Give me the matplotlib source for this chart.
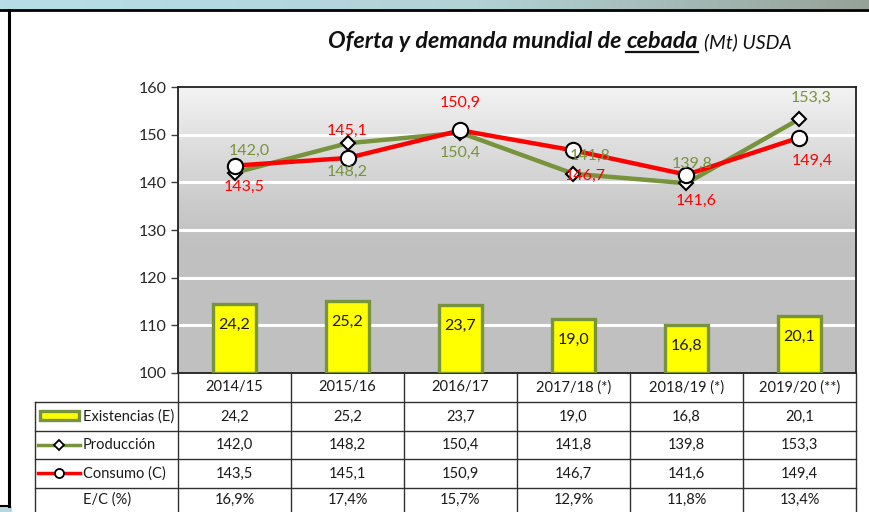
import matplotlib
matplotlib.use('Agg')
import matplotlib.pyplot as plt
import numpy as np
from matplotlib.patches import Rectangle
from matplotlib.lines import Line2D

plt.rcParams['font.family'] = ['Lato', 'DejaVu Sans']

# ---------------- data ----------------
categories = ['2014/15', '2015/16', '2016/17', '2017/18 (*)', '2018/19 (*)', '2019/20 (**)']
existencias = [24.2, 25.2, 23.7, 19.0, 16.8, 20.1]
produccion = [142.0, 148.2, 150.4, 141.8, 139.8, 153.3]
consumo = [143.5, 145.1, 150.9, 146.7, 141.6, 149.4]
ec_pct = [16.9, 17.4, 15.7, 12.9, 11.8, 13.4]
yticks = [100, 110, 120, 130, 140, 150, 160]
row_names = ['Existencias (E)', 'Producción', 'Consumo (C)', 'E/C (%)']

# label offsets (pixels) relative to points
prod_off = [(15, -22), (0, 29), (0, 20), (17, -18), (6, -19), (12, -21)]
cons_off = [(10, 21), (0, -27), (0, -27), (12, 25), (10, 26), (13, 23)]

GREEN = '#77933c'
RED = '#ff0000'
YELLOW = '#ffff00'


def fmt(v):
    return f'{v:.1f}'.replace('.', ',')


W, H = 870, 512
fig = plt.figure(figsize=(8.7, 5.12), dpi=100)
fig.patch.set_facecolor('white')

L, R, T, B = 178, 856, 87, 373
pos = [L / W, 1 - B / H, (R - L) / W, (B - T) / H]
ax = fig.add_axes(pos)
x = np.arange(len(categories))

# background gradient
n = 300
yy = np.linspace(100, 160, n)
g = np.where(yy > 126, 0.753 + 0.20 * np.clip((yy - 126) / 34, 0, 1) ** 1.2, 0.753)
img = np.dstack([g, g, g]).reshape(n, 1, 3)
ax.imshow(img, extent=[-0.5, 5.5, 100, 160], origin='lower', aspect='auto', zorder=0)
for yv in yticks[1:-1]:
    ax.axhline(yv, color='white', lw=2.2, zorder=1)
ax.set_xlim(-0.5, 5.5)
ax.set_ylim(100, 160)
ax.set_yticks(yticks)
ax.set_yticklabels([str(v) for v in yticks], fontsize=11.5, color='#262626')
ax.set_xticks([])
ax.tick_params(axis='y', length=5, width=1, color='#404040', pad=3)
for s in ax.spines.values():
    s.set_color('#202020')
    s.set_linewidth(1.3)
    s.set_zorder(6)

# bars on secondary (hidden) scale
axb = ax.twinx()
axb.set_ylim(0, 100)
axb.axis('off')
axb.bar(x, existencias, width=0.385, color=YELLOW, edgecolor=GREEN, linewidth=2.4, zorder=2)
for xi, v in zip(x, existencias):
    axb.annotate(fmt(v), (xi, v), xytext=(0, -21 * 0.72), textcoords='offset points',
                 ha='center', va='center', fontsize=11.5, color='#1a1a1a')

# lines
axl = ax.twinx()
axl.set_ylim(100, 160)
axl.set_xlim(-0.5, 5.5)
axl.axis('off')
axl.plot(x, produccion, color=GREEN, lw=3.2, zorder=3)
axl.plot(x, consumo, color=RED, lw=3.2, zorder=4)
axl.plot(x, produccion, ls='none', marker='D', ms=7.5, mfc='white', mec='black', mew=1.5, zorder=5)
axl.plot(x, consumo, ls='none', marker='o', ms=11, mfc='white', mec='black', mew=1.5, zorder=6)
for xi, v, (dx, dy) in zip(x, produccion, prod_off):
    axl.annotate(fmt(v), (xi, v), xytext=(dx * 0.72, -dy * 0.72), textcoords='offset points',
                 ha='center', va='center', fontsize=11.5, color=GREEN, zorder=7)
for xi, v, (dx, dy) in zip(x, consumo, cons_off):
    axl.annotate(fmt(v), (xi, v), xytext=(dx * 0.72, -dy * 0.72), textcoords='offset points',
                 ha='center', va='center', fontsize=11.5, color=RED, zorder=7)

# ---------------- overlay in pixel coordinates ----------------
ov = fig.add_axes([0, 0, 1, 1], zorder=10)
ov.set_xlim(0, W)
ov.set_ylim(H, 0)
ov.axis('off')
ov.patch.set_alpha(0)

# top band gradient
band = np.zeros((1, 200, 3))
cl = np.array([183, 222, 232]) / 255
cm = np.array([178, 210, 214]) / 255
cr = np.array([150, 162, 152]) / 255
for i in range(200):
    t = i / 199
    if t < 0.55:
        band[0, i] = cl + (cm - cl) * t / 0.55
    else:
        band[0, i] = cm + (cr - cm) * (t - 0.55) / 0.45
ov.imshow(band, extent=[0, W, 9, 0], aspect='auto', zorder=0)
ov.add_line(Line2D([0, W], [10, 10], color='black', lw=2))
ov.add_line(Line2D([9, 9], [10, 506], color='black', lw=2.2))
ov.add_line(Line2D([0, 10], [506, 506], color='black', lw=1.5))
ov.add_patch(Rectangle((0, 507), 12, 6, color='#b7d7e0', lw=0))

# table grid
col_edges = [L + (R - L) * k / len(categories) for k in range(len(categories) + 1)]
row_edges = [373, 402, 431, 459, 488, 517]
lc = '#303030'
for yv in row_edges[1:5]:
    ov.add_line(Line2D([35, R], [yv, yv], color=lc, lw=1))
ov.add_line(Line2D([35, 35], [402, H], color=lc, lw=1))
for xv in col_edges:
    ov.add_line(Line2D([xv, xv], [373, H], color=lc, lw=1))

tfs = 10.5
for i, c in enumerate(categories):
    cx = (col_edges[i] + col_edges[i + 1]) / 2
    ov.text(cx, (row_edges[0] + row_edges[1]) / 2, c, ha='center', va='center', fontsize=tfs, color='#1a1a1a')
    rows = [fmt(existencias[i]), fmt(produccion[i]), fmt(consumo[i]), fmt(ec_pct[i]) + '%']
    for j, s in enumerate(rows):
        ov.text(cx, (row_edges[j + 1] + row_edges[j + 2]) / 2 if j < 3 else 500, s,
                ha='center', va='center', fontsize=tfs, color='#1a1a1a')

for j, name in enumerate(row_names):
    cy = (row_edges[j + 1] + row_edges[j + 2]) / 2 if j < 3 else 500
    ov.text(83, cy, name, ha='left', va='center', fontsize=tfs, color='#1a1a1a')

# legend symbols
ov.add_patch(Rectangle((40, 411), 39, 9, facecolor=YELLOW, edgecolor=GREEN, lw=2.4))
ov.add_line(Line2D([38, 80], [445, 445], color=GREEN, lw=2.5))
ov.add_line(Line2D([59], [445], ls='none', marker='D', ms=5, mfc='white', mec='black', mew=1.3))
ov.add_line(Line2D([38, 80], [473, 473], color=RED, lw=2.5))
ov.add_line(Line2D([59], [473], ls='none', marker='o', ms=6.5, mfc='white', mec='black', mew=1.3))

# title
renderer = fig.canvas.get_renderer()
base_y = 48
t1 = ov.text(328, base_y, 'Oferta y demanda mundial de', fontsize=16.8, fontweight='bold',
             fontstyle='italic', va='baseline', ha='left', color='#111111')
x1 = t1.get_window_extent(renderer).x1
t2 = ov.text(x1 + 5, base_y, 'cebada', fontsize=16.8, fontweight='bold',
             fontstyle='italic', va='baseline', ha='left', color='#111111')
bb2 = t2.get_window_extent(renderer)
ov.add_line(Line2D([bb2.x0, bb2.x1], [base_y + 3.5, base_y + 3.5], color='#111111', lw=1.6))
t3 = ov.text(bb2.x1 + 6, base_y, '(Mt) USDA', fontsize=14, fontstyle='italic',
             va='baseline', ha='left', color='#111111')

fig.savefig('out.png', dpi=100)
